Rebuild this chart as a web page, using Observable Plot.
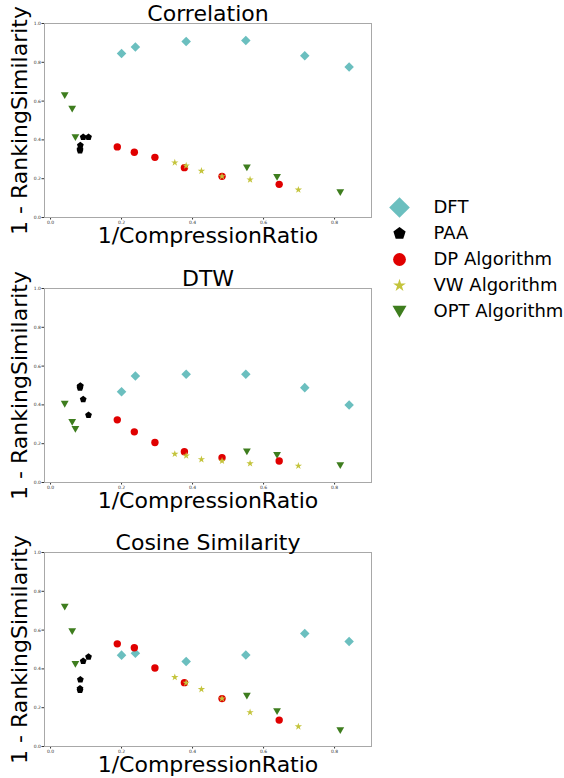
<!DOCTYPE html>
<html><head><meta charset="utf-8">
<script src="https://cdn.jsdelivr.net/npm/d3@7"></script>
<script src="https://cdn.jsdelivr.net/npm/@observablehq/plot@0.6"></script>
<style>
body{margin:0;background:#fff}
#wrap{position:relative;width:564px;height:778px;overflow:hidden;font-family:"DejaVu Sans"}
.p{position:absolute}
</style>
</head><body><div id="wrap"></div>
<script>
// ---- data ----
const panelTitles = ["Correlation", "DTW", "Cosine Similarity"];
const xLabel = "1/CompressionRatio";
const yLabel = "1 - RankingSimilarity";
const xTicks = [0.0, 0.2, 0.4, 0.6, 0.8];
const yTicks = [0.0, 0.2, 0.4, 0.6, 0.8, 1.0];
const seriesNames = ["DFT", "PAA", "DP Algorithm", "VW Algorithm", "OPT Algorithm"];

const dftX = [0.200, 0.239, 0.382, 0.550, 0.716, 0.841];
const dftY = [
  [0.845, 0.879, 0.907, 0.912, 0.834, 0.776],
  [0.468, 0.549, 0.558, 0.558, 0.489, 0.399],
  [0.471, 0.481, 0.438, 0.472, 0.583, 0.541]
];
const paaX = [0.083, 0.083, 0.084, 0.092, 0.107];
const paaY = [
  [0.345, 0.352, 0.372, 0.414, 0.414],
  [0.488, 0.495, 0.498, 0.429, 0.347],
  [0.290, 0.298, 0.345, 0.440, 0.462]
];
const dpX = [0.188, 0.236, 0.294, 0.377, 0.483, 0.644];
const dpY = [
  [0.364, 0.336, 0.310, 0.257, 0.212, 0.171],
  [0.323, 0.261, 0.206, 0.159, 0.128, 0.111],
  [0.529, 0.509, 0.405, 0.329, 0.247, 0.136]
];
const vwX = [0.350, 0.382, 0.425, 0.483, 0.562, 0.698];
const vwY = [
  [0.283, 0.267, 0.240, 0.212, 0.195, 0.143],
  [0.147, 0.138, 0.119, 0.111, 0.098, 0.086],
  [0.357, 0.328, 0.295, 0.247, 0.176, 0.103]
];
const optX = [0.040, 0.061, 0.070, 0.553, 0.638, 0.816];
const optY = [
  [0.629, 0.559, 0.412, 0.257, 0.207, 0.129],
  [0.404, 0.311, 0.275, 0.159, 0.140, 0.088],
  [0.719, 0.593, 0.424, 0.260, 0.181, 0.083]
];

// ---- styles ----
const pentagon = {
  draw(ctx, size) {
    const r = Math.sqrt(size / (2.5 * Math.sin(2 * Math.PI / 5)));
    for (let i = 0; i < 5; i++) {
      const a = -Math.PI / 2 + i * 2 * Math.PI / 5;
      const px = r * Math.cos(a), py = r * Math.sin(a);
      if (i === 0) ctx.moveTo(px, py); else ctx.lineTo(px, py);
    }
    ctx.closePath();
  }
};
const styles = {
  "DFT":           {xs: dftX, ys: dftY, symbol: "diamond2", fill: "#6bbfbf", r: 4.3, lr: 9.3, rotate: 0, dy: 0},
  "PAA":           {xs: paaX, ys: paaY, symbol: pentagon,   fill: "#000000", r: 3.1, lr: 5.6, rotate: 0, dy: 0},
  "DP Algorithm":  {xs: dpX,  ys: dpY,  symbol: "circle",   fill: "#e00000", r: 3.7, lr: 6.4, rotate: 0, dy: 0},
  "VW Algorithm":  {xs: vwX,  ys: vwY,  symbol: "star",     fill: "#c4c43c", r: 2.3, lr: 4.0, rotate: 0, dy: 0},
  "OPT Algorithm": {xs: optX, ys: optY, symbol: "triangle", fill: "#3e7d1e", r: 2.9, lr: 5.2, rotate: 180, dy: -1}
};
const drawOrder = ["OPT Algorithm", "DFT", "PAA", "DP Algorithm", "VW Algorithm"];
const panelTops = [0, 265, 529];

const wrap = document.getElementById("wrap");

panelTitles.forEach((title, i) => {
  const dotMarks = drawOrder.map(name => {
    const s = styles[name];
    const rows = s.xs.map((x, j) => ({x, y: s.ys[i][j]}));
    return Plot.dot(rows, {x: "x", y: "y", symbol: s.symbol, fill: s.fill, r: s.r,
      rotate: s.rotate, dy: s.dy, stroke: "none"});
  });
  const chart = Plot.plot({
    width: 380, height: 249,
    marginLeft: 44, marginRight: 9, marginTop: 23, marginBottom: 32,
    style: {fontFamily: "DejaVu Sans", background: "transparent", overflow: "visible"},
    x: {domain: [-0.017, 0.904]},
    y: {domain: [0, 1]},
    marks: [
      Plot.axisX({ticks: xTicks, tickFormat: d3.format(".1f"), tickSize: 2.5, tickPadding: 1,
        fontSize: 4.5, label: null, color: "#333"}),
      Plot.axisY({ticks: yTicks, tickFormat: d3.format(".1f"), tickSize: 2.5, tickPadding: 1,
        fontSize: 4.5, label: null, color: "#333"}),
      ...dotMarks,
      Plot.frame({stroke: "#a8a8a8"}),
      Plot.text([title], {text: d => d, frameAnchor: "top", textAnchor: "middle", lineAnchor: "middle", dy: -10,
        fontSize: 22, fill: "#000"}),
      Plot.text([xLabel], {text: d => d, frameAnchor: "bottom", textAnchor: "middle", lineAnchor: "middle", dy: 18,
        fontSize: 22, fill: "#000"}),
      Plot.text([yLabel], {text: d => d, frameAnchor: "left", textAnchor: "middle", lineAnchor: "middle",
        rotate: -90, dx: -25, fontSize: 22, fill: "#000"})
    ]
  });
  chart.classList.add("p");
  chart.style.left = "0px";
  chart.style.top = panelTops[i] + "px";
  wrap.appendChild(chart);
});

// legend
const legend = Plot.plot({
  width: 184, height: 140, margin: 0,
  style: {fontFamily: "DejaVu Sans", background: "transparent", overflow: "visible"},
  y: {type: "point", domain: seriesNames, range: [15, 122], padding: 0, axis: null},
  marks: [
    ...seriesNames.map(name => {
      const s = styles[name];
      return Plot.dot([name], {y: d => d, frameAnchor: "left", dx: 19, dy: s.dy * 1.8,
        symbol: s.symbol, fill: s.fill, r: s.lr, rotate: s.rotate, stroke: "none"});
    }),
    Plot.text(seriesNames, {y: d => d, text: d => d, frameAnchor: "left", dx: 53,
      textAnchor: "start", lineAnchor: "middle", fontSize: 18, fill: "#000"})
  ]
});
legend.classList.add("p");
legend.style.left = "380px";
legend.style.top = "190px";
wrap.appendChild(legend);
</script>
</body></html>
